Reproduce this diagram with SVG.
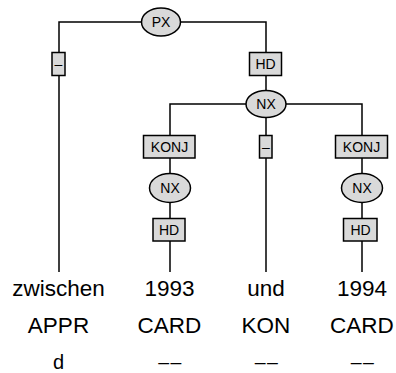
<svg xmlns="http://www.w3.org/2000/svg" width="396" height="373" viewBox="0 0 396 373">
<style>
.ln{stroke:#000;stroke-width:1.5;fill:none}
.bx{fill:#d9d9d9;stroke:#000;stroke-width:1.5}
.lb{font-family:"Liberation Sans",Arial,sans-serif;font-size:14px;text-anchor:middle;fill:#000}
.tk{font-family:"Liberation Sans",Arial,sans-serif;font-size:22.5px;text-anchor:middle;fill:#000}
.sm{font-size:20px}
.ds{font-size:19.5px;letter-spacing:1.5px}
</style>
<rect width="396" height="373" fill="#fff"/>
<g id="connectors">
<polyline class="ln" points="59,272 59,22 266,22 266,104"/>
<polyline class="ln" points="170,272 170,104 362,104 362,272"/>
<line class="ln" x1="266" y1="104" x2="266" y2="272"/>
</g>
<g id="PX"><ellipse class="bx" cx="161" cy="22" rx="19.5" ry="14"/><text class="lb" x="161" y="27">PX</text></g>
<g id="edge-dash-left"><rect class="bx" x="52" y="52.5" width="13" height="23"/><text class="lb" x="58.5" y="69">–</text></g>
<g id="HD-top"><rect class="bx" x="249.5" y="52.5" width="32" height="23"/><text class="lb" x="265.5" y="69">HD</text></g>
<g id="NX-mid"><ellipse class="bx" cx="266" cy="104" rx="20" ry="13.5"/><text class="lb" x="266" y="109">NX</text></g>
<g id="KONJ-left"><rect class="bx" x="143.5" y="135.5" width="51.5" height="22.5"/><text class="lb" x="169.5" y="152">KONJ</text></g>
<g id="edge-dash-mid"><rect class="bx" x="259.5" y="135.5" width="12.5" height="22.5"/><text class="lb" x="266" y="152">–</text></g>
<g id="KONJ-right"><rect class="bx" x="335.5" y="135.5" width="52" height="22.5"/><text class="lb" x="361.5" y="152">KONJ</text></g>
<g id="NX-left"><ellipse class="bx" cx="170" cy="188" rx="20.5" ry="14.5"/><text class="lb" x="170" y="193">NX</text></g>
<g id="NX-right"><ellipse class="bx" cx="362" cy="188" rx="20.5" ry="14.5"/><text class="lb" x="362" y="193">NX</text></g>
<g id="HD-left"><rect class="bx" x="153" y="218.5" width="32" height="22.5"/><text class="lb" x="169" y="235">HD</text></g>
<g id="HD-right"><rect class="bx" x="343.5" y="218.5" width="33.5" height="22.5"/><text class="lb" x="360.5" y="235">HD</text></g>
<g id="tokens">
<text class="tk" x="58.5" y="296">zwischen</text>
<text class="tk" x="169.5" y="296">1993</text>
<text class="tk" x="266" y="296">und</text>
<text class="tk" x="362" y="296">1994</text>
<text class="tk" x="58.5" y="333">APPR</text>
<text class="tk" x="169.5" y="333">CARD</text>
<text class="tk" x="266" y="333">KON</text>
<text class="tk" x="362" y="333">CARD</text>
<text class="tk sm" x="58.5" y="369">d</text>
<text class="tk ds" x="170.5" y="369">––</text>
<text class="tk ds" x="267" y="369">––</text>
<text class="tk ds" x="363" y="369">––</text>
</g>
</svg>
